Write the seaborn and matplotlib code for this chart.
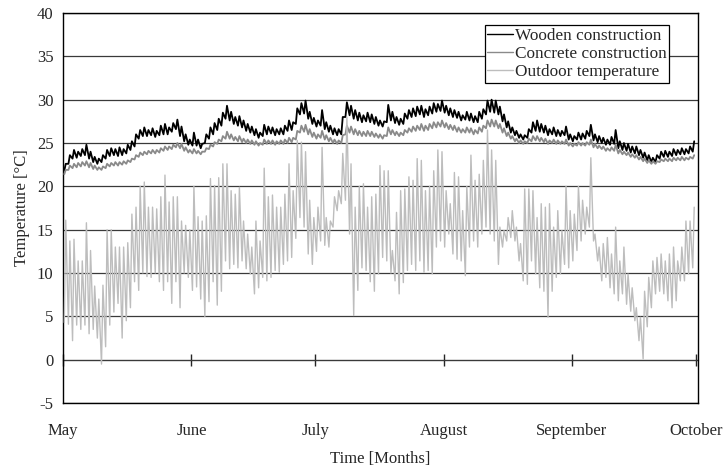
import numpy as np
import pandas as pd
import matplotlib
matplotlib.use('Agg')
import matplotlib.pyplot as plt
import seaborn as sns

# month axis
month_names = ['May', 'June', 'July', 'August', 'September', 'October']
month_starts = [0, 31, 61, 92, 123, 153]

# daily max / min, May 1 .. Sep 30 (153 days)
out_hi = [16.1, 13.7, 13.9, 11.4, 11.4, 15.8, 12.6, 8.5, 7.0, 8.6,
          15.0, 15.0, 13.0, 13.0, 13.0, 13.5, 16.8, 17.6, 20.0, 20.5,
          17.6, 17.6, 17.4, 18.8, 21.3, 18.2, 18.8, 18.8, 16.0, 15.5,
          15.0, 20.0, 16.5, 16.0, 16.6, 20.9, 20.1, 21.0, 22.6, 22.6,
          19.5, 19.1, 19.9, 16.0, 14.5, 13.0, 16.0, 13.7, 22.1, 18.8,
          19.0, 17.6, 17.6, 19.1, 22.6, 19.5, 25.3, 25.1, 24.0, 18.4,
          16.4, 17.6, 24.5, 16.4, 16.0, 18.8, 19.5, 23.8, 28.0, 22.6,
          17.6, 20.0, 20.3, 17.6, 18.8, 19.1, 22.4, 21.8, 21.8, 12.6,
          17.0, 19.5, 19.7, 21.1, 20.7, 23.2, 23.0, 19.5, 20.0, 21.8,
          24.2, 24.0, 19.5, 18.0, 21.6, 21.1, 17.2, 20.0, 23.6, 20.7,
          21.4, 23.0, 26.5, 24.2, 23.0, 15.3, 14.9, 16.4, 17.2, 15.3,
          13.4, 19.7, 19.7, 19.5, 16.4, 18.0, 17.6, 18.0, 15.3, 17.2,
          14.9, 20.0, 17.2, 16.8, 20.0, 18.4, 17.6, 23.3, 14.5, 13.0,
          13.4, 14.1, 12.2, 15.3, 11.4, 13.0, 9.9, 8.3, 6.0, 4.9,
          7.9, 9.5, 11.4, 11.8, 12.2, 11.4, 12.2, 13.0, 11.4, 13.0,
          16.0, 16.0, 17.6]
out_lo = [4.3, 4.1, 2.2, 4.0, 3.5, 4.0, 3.0, 3.5, 2.5, -0.5,
          1.5, 4.0, 5.5, 6.5, 2.5, 4.5, 6.0, 9.0, 8.0, 10.0,
          9.6, 9.5, 10.0, 9.0, 8.0, 9.0, 6.5, 9.0, 6.0, 10.0,
          9.5, 8.0, 8.4, 7.0, 5.0, 6.7, 9.0, 6.3, 7.9, 11.4,
          10.5, 11.0, 10.6, 11.4, 10.5, 9.9, 7.6, 8.3, 9.5, 9.1,
          9.5, 10.3, 10.1, 11.0, 11.4, 11.8, 14.0, 16.4, 15.3, 12.2,
          11.0, 12.5, 13.7, 13.2, 13.0, 15.3, 17.2, 18.0, 18.4, 14.5,
          5.1, 8.0, 10.6, 10.3, 9.0, 7.9, 9.9, 11.8, 11.4, 10.0,
          9.1, 7.6, 8.9, 10.3, 11.0, 10.3, 11.4, 10.1, 10.3, 9.9,
          13.0, 13.7, 13.0, 14.5, 12.2, 11.6, 11.4, 9.7, 13.0, 13.7,
          13.0, 14.5, 15.3, 14.5, 13.7, 11.0, 13.0, 13.7, 14.1, 13.7,
          11.4, 9.1, 8.7, 11.4, 9.9, 8.3, 7.9, 4.9, 7.9, 9.5,
          9.9, 11.0, 10.6, 11.4, 12.6, 13.7, 14.5, 15.3, 13.7, 11.4,
          9.1, 9.5, 8.3, 7.6, 6.8, 7.6, 6.4, 5.6, 4.5, 2.2,
          0.1, 3.8, 6.0, 7.6, 7.9, 7.6, 6.8, 6.0, 6.8, 9.1,
          9.1, 9.9, 10.6]

wood_hi = [22.6, 23.6, 24.2, 24.0, 24.3, 24.8, 24.0, 23.4, 23.2, 23.6,
           24.2, 24.4, 24.3, 24.5, 24.3, 24.8, 25.2, 26.0, 26.5, 26.8,
           26.5, 26.7, 26.4, 27.0, 27.2, 26.8, 27.3, 27.7, 26.9, 26.0,
           25.4, 26.2, 25.4, 24.9, 26.0, 26.8, 27.3, 27.8, 28.5, 29.3,
           28.6, 28.0, 28.1, 27.6, 27.2, 26.9, 26.6, 26.2, 27.1, 26.9,
           26.8, 26.6, 26.7, 27.0, 27.6, 27.4, 29.0, 29.6, 29.9, 28.6,
           27.9, 27.6, 28.8, 27.4, 27.0, 26.7, 26.6, 28.0, 29.7, 29.3,
           28.8, 28.5, 28.2, 28.5, 28.3, 28.0, 27.6, 27.5, 29.4, 28.6,
           28.0, 27.8, 28.4, 28.8, 29.0, 29.2, 29.3, 28.9, 29.2, 29.6,
           29.5, 29.9, 29.3, 29.0, 28.8, 28.6, 28.2, 28.6, 28.4, 28.1,
           28.6, 28.9, 29.9, 30.0, 29.9, 29.2, 28.3, 27.5, 26.8, 26.4,
           26.0, 25.9, 26.6, 27.4, 27.6, 27.2, 27.0, 26.6, 26.8, 26.5,
           26.4, 26.9, 26.0, 25.8, 26.2, 26.1, 26.4, 27.1, 26.0, 25.8,
           25.6, 25.4, 25.7, 26.5, 25.2, 25.0, 24.9, 24.6, 24.6, 24.2,
           23.9, 23.6, 23.3, 23.6, 24.0, 24.1, 24.0, 24.3, 24.2, 24.4,
           24.3, 24.6, 25.2]
wood_lo = [21.8, 22.6, 23.2, 23.3, 23.5, 23.6, 23.2, 22.8, 22.6, 22.8,
           23.2, 23.5, 23.6, 23.5, 23.6, 23.8, 24.2, 24.6, 25.5, 25.8,
           25.8, 25.9, 25.7, 25.9, 26.0, 26.0, 26.3, 26.6, 25.8, 25.2,
           24.8, 24.7, 24.7, 24.4, 25.0, 25.5, 26.0, 26.5, 27.0, 27.8,
           27.6, 27.2, 27.0, 26.8, 26.4, 26.2, 25.9, 25.6, 25.8, 26.0,
           26.1, 25.9, 26.0, 26.0, 26.4, 26.5, 27.2, 28.3, 28.4, 27.8,
           27.2, 26.9, 27.0, 26.6, 26.3, 26.0, 25.9, 26.0, 28.0, 28.2,
           27.8, 27.6, 27.4, 27.5, 27.4, 27.2, 27.0, 26.9, 27.4, 27.6,
           27.3, 27.1, 27.2, 27.8, 28.0, 28.1, 28.3, 28.0, 28.2, 28.4,
           28.6, 28.7, 28.5, 28.2, 28.0, 27.9, 27.6, 27.7, 27.6, 27.4,
           27.4, 27.8, 28.3, 28.6, 28.5, 28.3, 27.5, 26.8, 26.2, 25.9,
           25.6, 25.4, 25.6, 26.2, 26.4, 26.3, 26.2, 25.9, 26.0, 25.8,
           25.8, 25.9, 25.4, 25.2, 25.4, 25.4, 25.5, 25.8, 25.3, 25.1,
           25.0, 24.8, 24.8, 24.9, 24.4, 24.2, 24.1, 23.9, 23.8, 23.6,
           23.3, 23.0, 22.8, 22.8, 23.2, 23.4, 23.4, 23.5, 23.6, 23.7,
           23.7, 23.8, 24.0]

conc_hi = [21.9, 22.4, 22.6, 22.7, 22.8, 22.9, 22.7, 22.4, 22.2, 22.3,
           22.6, 22.7, 22.8, 22.8, 22.9, 23.0, 23.2, 23.6, 23.9, 24.0,
           24.1, 24.2, 24.2, 24.4, 24.6, 24.6, 24.8, 25.0, 24.9, 24.5,
           24.2, 24.3, 24.1, 24.0, 24.4, 24.8, 25.1, 25.4, 25.8, 26.3,
           26.0, 25.7, 25.8, 25.5, 25.4, 25.3, 25.2, 25.0, 25.4, 25.3,
           25.3, 25.2, 25.3, 25.4, 25.6, 25.6, 26.4, 27.0, 27.1, 26.6,
           26.2, 26.0, 26.4, 25.9, 25.6, 25.4, 25.3, 25.9, 27.0, 26.9,
           26.6, 26.4, 26.3, 26.4, 26.3, 26.1, 26.0, 25.9, 26.8, 26.5,
           26.3, 26.2, 26.5, 26.7, 26.9, 27.0, 27.2, 27.0, 27.2, 27.4,
           27.4, 27.6, 27.3, 27.1, 27.0, 26.8, 26.6, 26.8, 26.7, 26.5,
           26.8, 27.0, 27.6, 27.7, 27.6, 27.2, 26.7, 26.2, 25.8, 25.5,
           25.3, 25.2, 25.5, 25.8, 25.8, 25.6, 25.5, 25.3, 25.4, 25.3,
           25.2, 25.4, 25.0, 24.9, 25.1, 25.0, 25.1, 25.4, 24.9, 24.7,
           24.6, 24.4, 24.5, 24.8, 24.2, 24.0, 23.9, 23.7, 23.6, 23.4,
           23.2, 23.0, 22.9, 22.9, 23.1, 23.2, 23.2, 23.3, 23.3, 23.4,
           23.3, 23.4, 23.6]
conc_lo = [21.4, 21.9, 22.1, 22.2, 22.3, 22.4, 22.2, 22.0, 21.9, 21.9,
           22.1, 22.3, 22.4, 22.4, 22.5, 22.6, 22.8, 23.1, 23.4, 23.6,
           23.7, 23.8, 23.8, 23.9, 24.1, 24.2, 24.3, 24.5, 24.4, 24.1,
           23.9, 23.8, 23.8, 23.7, 24.0, 24.3, 24.6, 24.9, 25.2, 25.5,
           25.5, 25.3, 25.2, 25.1, 25.0, 24.9, 24.8, 24.7, 24.8, 24.9,
           24.9, 24.8, 24.9, 24.9, 25.0, 25.1, 25.4, 26.2, 26.3, 26.0,
           25.7, 25.5, 25.6, 25.4, 25.2, 25.0, 24.9, 25.0, 26.0, 26.2,
           26.0, 25.9, 25.8, 25.8, 25.8, 25.7, 25.6, 25.5, 25.8, 26.0,
           25.9, 25.8, 25.9, 26.2, 26.3, 26.4, 26.5, 26.4, 26.5, 26.7,
           26.8, 26.9, 26.8, 26.6, 26.5, 26.3, 26.2, 26.2, 26.2, 26.0,
           26.1, 26.3, 26.7, 26.9, 26.9, 26.7, 26.2, 25.8, 25.5, 25.2,
           25.0, 24.9, 25.0, 25.2, 25.3, 25.2, 25.1, 24.9, 25.0, 24.9,
           24.9, 24.9, 24.7, 24.6, 24.7, 24.7, 24.7, 24.8, 24.5, 24.4,
           24.3, 24.1, 24.1, 24.1, 23.8, 23.7, 23.6, 23.4, 23.3, 23.1,
           22.9, 22.7, 22.6, 22.6, 22.8, 22.9, 22.9, 22.9, 23.0, 23.0,
           23.0, 23.1, 23.2]

labels = ['Wooden construction', 'Concrete construction', 'Outdoor temperature']
colors = ['#000000', '#8a8a8a', '#bdbdbd']


def to_series(lo, hi, name):
    # two readings per day: early-morning low, afternoon high
    n = len(lo)
    t = np.repeat(np.arange(n), 2) + np.tile([0.25, 0.6], n)
    v = np.column_stack([lo, hi]).ravel()
    return pd.DataFrame({'day': t, 'temp': v, 'series': name})


df = pd.concat([to_series(wood_lo, wood_hi, labels[0]),
                to_series(conc_lo, conc_hi, labels[1]),
                to_series(out_lo, out_hi, labels[2])], ignore_index=True)

sns.set_style('white')
plt.rcParams['font.family'] = ['Liberation Serif', 'DejaVu Serif']
plt.rcParams['axes.unicode_minus'] = False

fig, ax = plt.subplots(figsize=(7.27, 4.72), dpi=100)
fig.subplots_adjust(left=0.087, right=0.960, top=0.9725, bottom=0.146)

widths = [1.3, 1.3, 1.0]
for name, col, lw, z in zip(labels, colors, widths, [3, 3, 4]):
    sns.lineplot(data=df[df['series'] == name], x='day', y='temp',
                 color=col, linewidth=lw, estimator=None, sort=False,
                 ax=ax, label=name, zorder=z)

ax.set_xlim(0, 153.5)
ax.set_ylim(-5, 40)
ax.set_yticks(range(-5, 41, 5))
ax.yaxis.grid(True, color='#3a3a3a', linewidth=0.9)
ax.set_axisbelow(True)
ax.tick_params(axis='y', length=0, pad=7, labelsize=12)

ax.set_xticks(month_starts)
ax.set_xticklabels(month_names)
ax.tick_params(axis='x', length=0, pad=14, labelsize=12)

for s in ax.spines.values():
    s.set_visible(True)
    s.set_color('black')
    s.set_linewidth(1.0)

# zero line with month ticks (Excel style)
zero = ax.secondary_xaxis(5 / 45)
zero.set_xticks(month_starts)
zero.tick_params(axis='x', direction='inout', length=8, width=1, labelbottom=False)
zero.spines['bottom'].set_color('black')

ax.set_xlabel('Time [Months]', fontsize=12, labelpad=9)
ax.set_ylabel('Temperature [°C]', fontsize=12, labelpad=5)

leg = ax.legend(loc='upper left', bbox_to_anchor=(0.664, 0.968), fontsize=12.4,
                frameon=True, fancybox=False, framealpha=1, edgecolor='black',
                borderpad=0.15, labelspacing=0.12, handlelength=1.5,
                handletextpad=0.1, borderaxespad=0)
leg.get_frame().set_linewidth(0.9)
for h in leg.get_lines():
    h.set_linewidth(1.0)

fig.savefig('out.png', dpi=100)
